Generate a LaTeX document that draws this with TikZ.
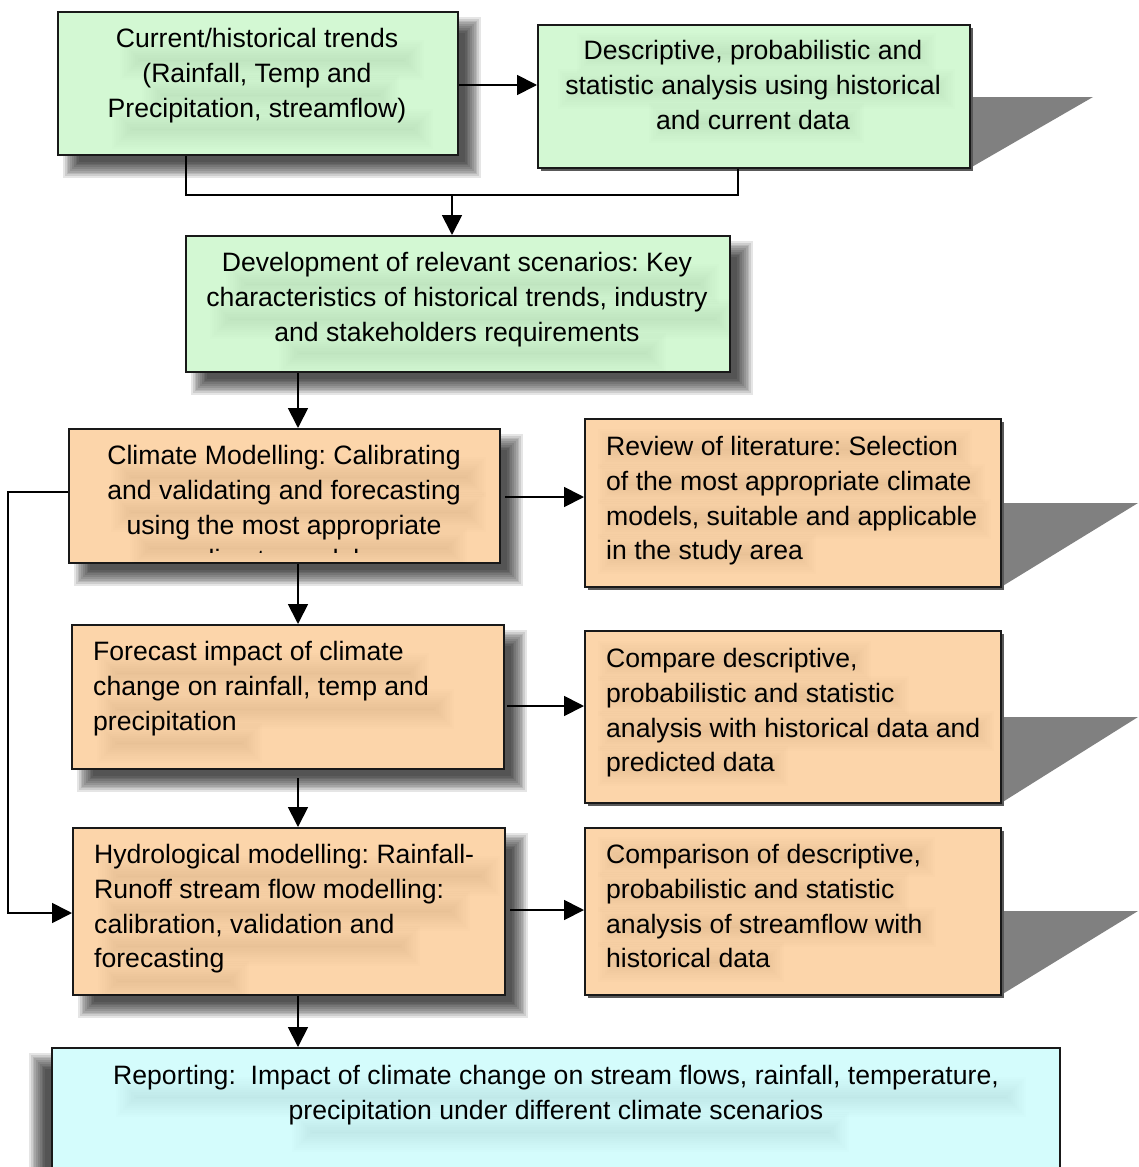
\documentclass[tikz,border=0pt]{standalone}
\usepackage{fontspec}
\setmainfont{Liberation Sans}
\usetikzlibrary{arrows.meta}
\frenchspacing
\definecolor{boxgreen}{RGB}{211,248,211}
\definecolor{boxorange}{RGB}{252,213,170}
\definecolor{boxcyan}{RGB}{212,252,252}
\definecolor{edgecol}{RGB}{25,25,25}
\definecolor{wedgecol}{RGB}{128,128,128}
% soft (blurred) rectangle: x1 y1 x2 y2 radius opacity-per-layer
\newcommand\softrect[6]{%
  \foreach \k in {0,...,9}{%
    \fill[black,opacity=#6] ({#1-#5+\k*#5/5},{#2-#5+\k*#5/5}) rectangle ({#3+#5-\k*#5/5},{#4+#5-\k*#5/5});
  }%
}
\newcommand\ghost[3]{\softrect{#1}{#3-9}{#2}{#3+9}{11}{0.0085}}
\newcommand\glow[3]{\softrect{#1}{#3-9}{#2}{#3+9}{11}{0.0065}}
\tikzset{
  box/.style={draw=edgecol, line width=2pt, inner sep=0pt},
  txt/.style={font=\fontsize{26.6}{34.8}\selectfont, inner sep=0pt, text=black},
  ctxt/.style={txt, align=center, anchor=north},
  ltxt/.style={txt, align=left, anchor=north west},
  conn/.style={line width=1.8pt, draw=black},
  arr/.style={conn, -{Triangle[length=20pt,width=20pt]}},
  wedge/.style={fill=wedgecol},
}
\newcommand\boxnode[6]{%
  \node[box, fill=#6, minimum width={#4-#2}, minimum height={#5-#3}] (#1) at ({(#2+#4)/2},{(#3+#5)/2}) {};
}
\begin{document}
\begin{tikzpicture}[x=1pt,y=-1pt]
\clip (0,0) rectangle (1138,1167);
\fill[white] (0,0) rectangle (1138,1167);

% drop shadows
\softrect{72}{26}{472}{169}{9}{0.1}
\softrect{200}{250}{744}{386}{9}{0.1}
\softrect{83}{443}{514}{577}{9}{0.1}
\softrect{86}{639}{518}{783}{9}{0.1}
\softrect{87}{842}{519}{1009}{9}{0.1}
\softrect{38}{1062}{1046}{1200}{9}{0.1}

% wedges behind right-hand boxes
\fill[wedge] (970,97) -- (1093,97) -- (970,168) -- cycle;
\fill[wedge] (1001,503) -- (1138,503) -- (1001,587) -- cycle;
\fill[wedge] (1001,717) -- (1138,717) -- (1001,803) -- cycle;
\fill[wedge] (1001,911) -- (1138,911) -- (1001,995) -- cycle;
\fill[black!65] (541,28) rectangle (973,171);
\fill[black!65] (588,422) rectangle (1004,590);
\fill[black!65] (588,634) rectangle (1004,806);
\fill[black!65] (588,831) rectangle (1004,998);

% boxes
\boxnode{B1}{58}{12}{458}{155}{boxgreen}
\boxnode{B2}{538}{25}{970}{168}{boxgreen}
\boxnode{B3}{186}{236}{730}{372}{boxgreen}
\boxnode{B4}{69}{429}{500}{563}{boxorange}
\boxnode{B5}{585}{419}{1001}{587}{boxorange}
\boxnode{B6}{72}{625}{504}{769}{boxorange}
\boxnode{B7}{585}{631}{1001}{803}{boxorange}
\boxnode{B8}{73}{828}{505}{995}{boxorange}
\boxnode{B9}{585}{828}{1001}{995}{boxorange}
\boxnode{B10}{52}{1048}{1060}{1190}{boxcyan}

% blurred text shadows
\begin{scope}\clip (59,13) rectangle (457,154);
\ghost{131}{413}{60}\ghost{153}{388}{95}\ghost{123}{422}{129}
\end{scope}
\begin{scope}\clip (539,26) rectangle (969,167);
\glow{588}{925}{53}\glow{569}{944}{89}\glow{660}{853}{123}
\end{scope}
\begin{scope}\clip (187,237) rectangle (729,371);
\ghost{237}{708}{284}\ghost{221}{724}{319}\ghost{290}{655}{353}
\end{scope}
\begin{scope}\clip (70,430) rectangle (499,562);
\ghost{122}{475}{477}\ghost{122}{475}{512}\ghost{141}{456}{548}
\end{scope}
\begin{scope}\clip (586,420) rectangle (1000,586);
\glow{609}{961}{449}\glow{609}{974}{484}\glow{609}{980}{519}\glow{609}{805}{554}
\end{scope}
\begin{scope}\clip (73,626) rectangle (503,768);
\ghost{108}{418}{673}\ghost{108}{443}{709}\ghost{108}{251}{743}
\end{scope}
\begin{scope}\clip (586,632) rectangle (1000,802);
\glow{609}{860}{661}\glow{609}{898}{696}\glow{609}{983}{731}\glow{609}{777}{766}
\end{scope}
\begin{scope}\clip (74,829) rectangle (504,994);
\ghost{109}{489}{876}\ghost{109}{459}{911}\ghost{109}{409}{946}\ghost{109}{238}{981}
\end{scope}
\begin{scope}\clip (586,829) rectangle (1000,994);
\glow{609}{924}{857}\glow{609}{898}{892}\glow{609}{925}{927}\glow{609}{773}{962}
\end{scope}
\begin{scope}\clip (53,1049) rectangle (1059,1189);
\ghost{127}{1015}{1097}\ghost{303}{838}{1132}
\end{scope}

% texts
\node[ctxt] (T1) at (257,28) {Current/historical trends\\(Rainfall, Temp and\\Precipitation, streamflow)};
\node[ctxt] (T2) at (753,40) {Descriptive, probabilistic and\\statistic analysis using historical\\and current data};
\node[ctxt] (T3) at (457,252) {Development of relevant scenarios: Key\\characteristics of historical trends, industry\\and stakeholders requirements};
\begin{scope}\clip (70,430) rectangle (499,552);
\node[ctxt] (T4) at (284,445) {Climate Modelling: Calibrating\\and validating and forecasting\\using the most appropriate\\climate models};
\end{scope}
\node[ltxt] (T5) at (606,436) {Review of literature: Selection\\of the most appropriate climate\\models, suitable and applicable\\in the study area};
\node[ltxt] (T6) at (93,641) {Forecast impact of climate\\change on rainfall, temp and\\precipitation};
\node[ltxt] (T7) at (606,648) {Compare descriptive,\\probabilistic and statistic\\analysis with historical data and\\predicted data};
\node[ltxt] (T8) at (94,844) {Hydrological modelling: Rainfall-\\Runoff stream flow modelling:\\calibration, validation and\\forecasting};
\node[ltxt] (T9) at (606,844) {Comparison of descriptive,\\probabilistic and statistic\\analysis of streamflow with\\historical data};
\node[ctxt] (T10) at (556,1065) {Reporting:\ \ Impact of climate change on stream flows, rainfall, temperature,\\precipitation under different climate scenarios};

% connectors
\draw[arr] (B1.east |- 0,85) -- (B2.west |- 0,85);
\draw[conn] (186,0 |- B1.south) |- (738,195) -- (738,0 |- B2.south);
\draw[arr] (452,195) -- (452,0 |- B3.north);
\draw[arr] (298,0 |- B3.south) -- (298,0 |- B4.north);
\draw[arr] ([xshift=4pt]B4.east |- 0,497) -- (B5.west |- 0,497);
\draw[arr] (298,0 |- B4.south) -- (298,0 |- B6.north);
\draw[arr] ([xshift=2pt]B6.east |- 0,706) -- (B7.west |- 0,706);
\draw[arr] (298,778) -- (298,0 |- B8.north);
\draw[arr] ([xshift=4pt]B8.east |- 0,910) -- (B9.west |- 0,910);
\draw[arr] (298,0 |- B8.south) -- (298,0 |- B10.north);
\draw[arr] (B4.west |- 0,492) -- (8,492) |- (B8.west |- 0,913);
\end{tikzpicture}
\end{document}
